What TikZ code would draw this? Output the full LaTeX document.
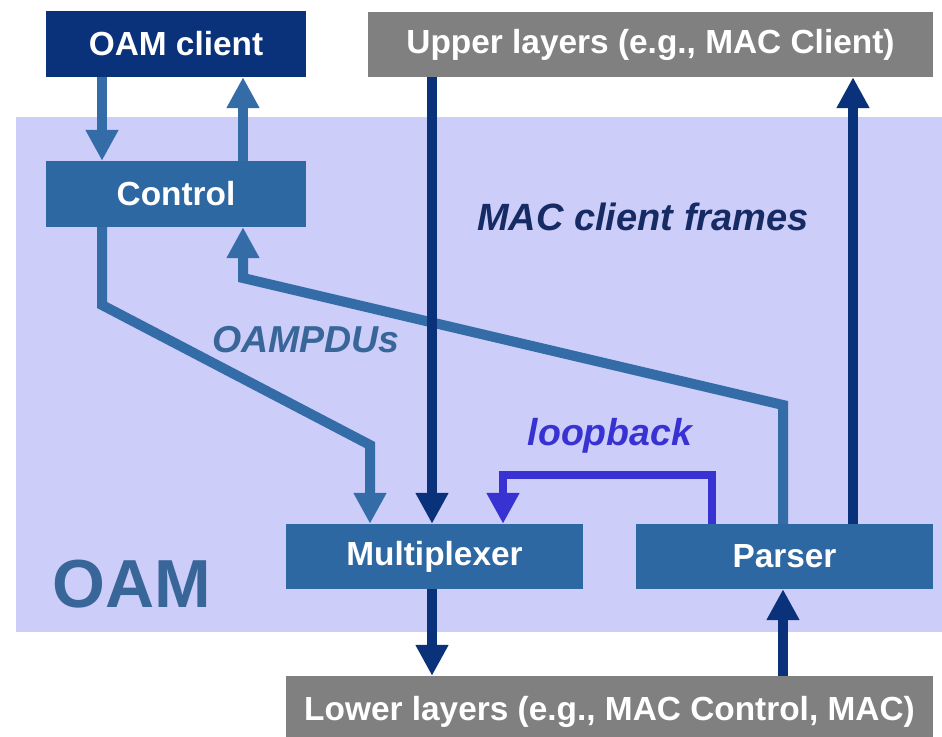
\documentclass[tikz,border=0pt]{standalone}
\usepackage{fontspec}
\setmainfont{Liberation Sans}
\usetikzlibrary{arrows.meta}

\definecolor{navy}{RGB}{10,50,122}
\definecolor{steel}{RGB}{46,104,162}
\definecolor{steeltext}{RGB}{56,102,152}
\definecolor{midline}{RGB}{52,108,168}
\definecolor{layergray}{RGB}{128,128,128}
\definecolor{lavender}{RGB}{205,205,250}
\definecolor{loopblue}{RGB}{56,50,210}
\definecolor{labelnavy}{RGB}{22,42,100}

\begin{document}
\begin{tikzpicture}[x=1pt,y=-1pt,
  box/.style={rectangle, inner sep=0pt, text=white,
    font=\fontsize{33.4}{36}\selectfont\bfseries},
  steelbox/.style={box, fill=steel},
  graybox/.style={box, fill=layergray},
  navybox/.style={box, fill=navy},
  flow/.style={line width=10pt, line join=miter,
    -{Triangle[width=31pt,length=31pt]}},
  label/.style={anchor=base, inner sep=0pt,
    font=\fontsize{37.5}{40}\selectfont\bfseries\itshape}]

\clip (0,0) rectangle (942,736);
\fill[white] (0,0) rectangle (942,736);

% OAM sublayer area
\fill[lavender] (16,117) rectangle (942,632);
\node[anchor=base west, inner sep=0pt, text=steeltext,
  font=\fontsize{68}{70}\selectfont\bfseries] (oamlbl) at (52,607) {OAM};

% blocks
\node[navybox, minimum width=260pt, minimum height=66pt] (oamc) at (176,44) {OAM client};
\node[graybox, minimum width=565pt, minimum height=65pt] (upper) at (650.5,44.5) {Upper layers (e.g., MAC Client)};
\node[steelbox, minimum width=260pt, minimum height=66pt] (ctrl) at (176,194) {Control};
\node[steelbox, minimum width=297pt, minimum height=65pt] (mux) at (434.5,556.5) {Multiplexer};
\node[steelbox, minimum width=297pt, minimum height=65pt] (parser) at (784.5,556.5) {Parser};
\node[graybox, minimum width=647pt, minimum height=72pt] (lower) at (609.5,712) {Lower layers (e.g., MAC Control, MAC)};

% OAM client <-> Control
\draw[flow, midline] (102,0 |- oamc.south) -- (102,0 |- ctrl.north);
\draw[flow, midline] (243,0 |- ctrl.north) -- (243,0 |- oamc.south);

% OAMPDUs: Control -> Multiplexer, Parser -> Control
\draw[flow, midline] (102,0 |- ctrl.south) -- (102,305) -- (370,445) -- (370,0 |- mux.north);
\draw[flow, midline] (783,0 |- parser.north) -- (783,405) -- (243,278) -- (243,0 |- ctrl.south);

% MAC client frames
\draw[flow, navy] (432,0 |- upper.south) -- (432,0 |- mux.north);
\draw[flow, navy] (853,0 |- parser.north) -- (853,0 |- upper.south);
\draw[flow, navy] (432,0 |- mux.south) -- (432,0 |- lower.north);
\draw[flow, navy] (783,0 |- lower.north) -- (783,0 |- parser.south);

% loopback path
\draw[flow, loopblue, line width=8pt] (712,0 |- parser.north) -- (712,475) -- (503,475) -- (503,0 |- mux.north);

% labels
\node[label, text=labelnavy, font=\fontsize{38}{40}\selectfont\bfseries\itshape] (mcf) at (643,230) {MAC client frames};
\node[label, text=steeltext] (pdus) at (306,352) {OAMPDUs};
\node[label, text=loopblue] (lb) at (610,445) {loopback};
\end{tikzpicture}
\end{document}
